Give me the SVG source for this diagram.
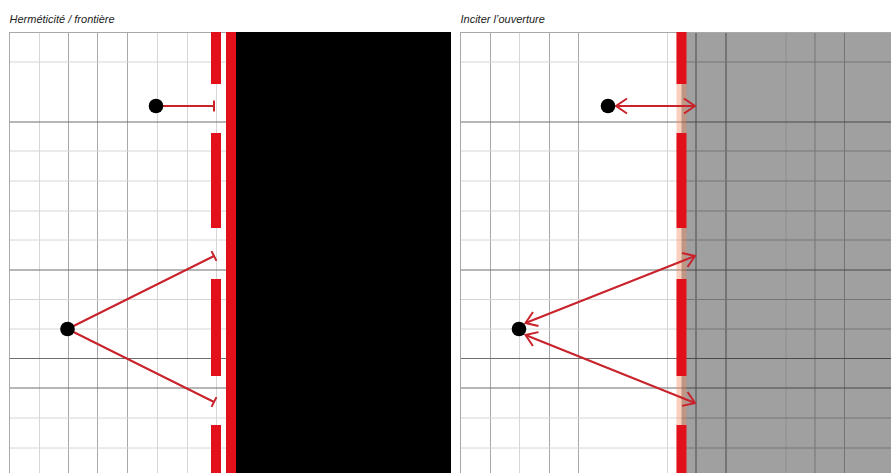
<svg xmlns="http://www.w3.org/2000/svg" width="891" height="473" viewBox="0 0 891 473">
<style>
.title{font-family:"Liberation Sans",Arial,sans-serif;font-style:italic;font-size:11px;fill:#222}
.gl{stroke:#d6d6d6;stroke-width:1}
.gm{stroke:#a8a8a8;stroke-width:1}
.gd{stroke:#6e6e6e;stroke-width:1}
.ggl{stroke:#8e8e8e;stroke-width:1}
.ggm{stroke:#747474;stroke-width:1}
.ggd{stroke:#4a4a4a;stroke-width:1}
.bar{fill:#e2101b}
.conn{stroke:#c9222b;stroke-width:2;fill:none}
.dot{fill:#000}
</style>
<defs>
<marker id="tick" markerUnits="userSpaceOnUse" viewBox="-2 -7 4 14" markerWidth="4" markerHeight="14" refX="0" refY="0" orient="auto">
<path d="M0,-5.5 V5.5" stroke="#c9222b" stroke-width="2" fill="none"/>
</marker>
<marker id="arrow" markerUnits="userSpaceOnUse" viewBox="-14 -10 16 20" markerWidth="16" markerHeight="20" refX="0" refY="0" orient="auto-start-reverse">
<path d="M-11,-7.5 L0,0 L-11,7.5" stroke="#c9222b" stroke-width="2" fill="none"/>
</marker>
</defs>
<rect width="891" height="473" fill="#fff"/>

<text class="title" x="9.5" y="22.5">Herméticité / frontière</text>
<text class="title" x="460.5" y="22.5">Inciter l’ouverture</text>

<g id="left-grid">
<line class="gl" x1="39.5" y1="32" x2="39.5" y2="473"/>
<line class="gm" x1="68.5" y1="32" x2="68.5" y2="473"/>
<line class="gm" x1="97.5" y1="32" x2="97.5" y2="473"/>
<line class="gm" x1="127.5" y1="32" x2="127.5" y2="473"/>
<line class="gl" x1="157.5" y1="32" x2="157.5" y2="473"/>
<line class="gl" x1="187.5" y1="32" x2="187.5" y2="473"/>
<line class="gl" x1="216.5" y1="32" x2="216.5" y2="473"/>
<line class="gl" x1="9" y1="62" x2="226" y2="62"/>
<line class="gd" x1="9" y1="122" x2="226" y2="122"/>
<line class="gl" x1="9" y1="151" x2="226" y2="151"/>
<line class="gl" x1="9" y1="181" x2="226" y2="181"/>
<line class="gl" x1="9" y1="211" x2="226" y2="211"/>
<line class="gl" x1="9" y1="240" x2="226" y2="240"/>
<line class="gd" x1="9" y1="270" x2="226" y2="270"/>
<line class="gl" x1="9" y1="299.5" x2="226" y2="299.5"/>
<line class="gl" x1="9" y1="329" x2="226" y2="329"/>
<line class="gd" x1="9" y1="358.5" x2="226" y2="358.5"/>
<line class="gd" x1="9" y1="388" x2="226" y2="388"/>
<line class="gl" x1="9" y1="418" x2="226" y2="418"/>
<line class="gl" x1="9" y1="448" x2="226" y2="448"/>
<line class="gm" x1="9.5" y1="32" x2="9.5" y2="473"/>
<line class="gm" x1="9" y1="32.5" x2="236" y2="32.5"/>
</g>

<g id="left-wall">
<rect x="236" y="32" width="215" height="441" fill="#000"/>
<rect class="bar" x="226" y="32" width="10" height="441"/>
<rect class="bar" x="211" y="32" width="10" height="52"/>
<rect class="bar" x="211" y="133" width="10" height="95"/>
<rect class="bar" x="211" y="279" width="10" height="97"/>
<rect class="bar" x="211" y="425" width="10" height="48"/>
</g>

<g id="right-grid">
<rect x="681.5" y="32" width="209.5" height="441" fill="#a0a0a0"/>
<line class="gm" x1="490.5" y1="32" x2="490.5" y2="473"/>
<line class="gl" x1="519.5" y1="32" x2="519.5" y2="473"/>
<line class="gm" x1="549.5" y1="32" x2="549.5" y2="473"/>
<line class="gm" x1="578.5" y1="32" x2="578.5" y2="473"/>
<line class="gl" x1="667.5" y1="32" x2="667.5" y2="473"/>
<line class="gl" x1="460" y1="62" x2="681.5" y2="62"/>
<line class="gd" x1="460" y1="122" x2="681.5" y2="122"/>
<line class="gl" x1="460" y1="151" x2="681.5" y2="151"/>
<line class="gl" x1="460" y1="181" x2="681.5" y2="181"/>
<line class="gl" x1="460" y1="211" x2="681.5" y2="211"/>
<line class="gl" x1="460" y1="240" x2="681.5" y2="240"/>
<line class="gd" x1="460" y1="270" x2="681.5" y2="270"/>
<line class="gl" x1="460" y1="299.5" x2="681.5" y2="299.5"/>
<line class="gl" x1="460" y1="329" x2="681.5" y2="329"/>
<line class="gd" x1="460" y1="358.5" x2="681.5" y2="358.5"/>
<line class="gd" x1="460" y1="388" x2="681.5" y2="388"/>
<line class="gl" x1="460" y1="418" x2="681.5" y2="418"/>
<line class="gl" x1="460" y1="448" x2="681.5" y2="448"/>
<line class="ggd" x1="696" y1="32" x2="696" y2="473"/>
<line class="ggd" x1="726" y1="32" x2="726" y2="473"/>
<line class="ggl" x1="786" y1="32" x2="786" y2="473"/>
<line class="ggm" x1="815" y1="32" x2="815" y2="473"/>
<line class="ggm" x1="844.5" y1="32" x2="844.5" y2="473"/>
<line class="ggm" x1="681.5" y1="62" x2="891" y2="62"/>
<line class="ggd" x1="681.5" y1="122" x2="891" y2="122"/>
<line class="ggm" x1="681.5" y1="151" x2="891" y2="151"/>
<line class="ggm" x1="681.5" y1="181" x2="891" y2="181"/>
<line class="ggm" x1="681.5" y1="211" x2="891" y2="211"/>
<line class="ggm" x1="681.5" y1="240" x2="891" y2="240"/>
<line class="ggd" x1="681.5" y1="270" x2="891" y2="270"/>
<line class="ggm" x1="681.5" y1="299.5" x2="891" y2="299.5"/>
<line class="ggm" x1="681.5" y1="329" x2="891" y2="329"/>
<line class="ggd" x1="681.5" y1="358.5" x2="891" y2="358.5"/>
<line class="ggd" x1="681.5" y1="388" x2="891" y2="388"/>
<line class="ggm" x1="681.5" y1="418" x2="891" y2="418"/>
<line class="ggm" x1="681.5" y1="448" x2="891" y2="448"/>
<line class="gm" x1="460.5" y1="32" x2="460.5" y2="473"/>
<line class="gm" x1="460" y1="32.5" x2="891" y2="32.5"/>
</g>

<g id="right-wall">
<rect x="676.5" y="32" width="10" height="441" fill="#f08a5d" fill-opacity="0.4"/>
<rect class="bar" x="676.5" y="32" width="10" height="52"/>
<rect class="bar" x="676.5" y="133" width="10" height="95"/>
<rect class="bar" x="676.5" y="279" width="10" height="97"/>
<rect class="bar" x="676.5" y="425" width="10" height="48"/>
</g>

<g id="connectors">
<line class="conn" x1="156" y1="106" x2="214" y2="106" marker-end="url(#tick)"/>
<line class="conn" x1="67.5" y1="329" x2="214" y2="256" marker-end="url(#tick)"/>
<line class="conn" x1="67.5" y1="329" x2="214" y2="402" marker-end="url(#tick)"/>
<line class="conn" x1="616" y1="106" x2="695" y2="106" marker-start="url(#arrow)" marker-end="url(#arrow)"/>
<line class="conn" x1="525.5" y1="323" x2="695" y2="256" marker-start="url(#arrow)" marker-end="url(#arrow)"/>
<line class="conn" x1="525.5" y1="335" x2="695" y2="403" marker-start="url(#arrow)" marker-end="url(#arrow)"/>
</g>

<g id="node-left-1"><circle class="dot" cx="156" cy="106" r="7.3"/></g>
<g id="node-left-2"><circle class="dot" cx="67.5" cy="329" r="7.3"/></g>
<g id="node-right-1"><circle class="dot" cx="608" cy="106" r="7.3"/></g>
<g id="node-right-2"><circle class="dot" cx="519" cy="329" r="7.3"/></g>
</svg>
